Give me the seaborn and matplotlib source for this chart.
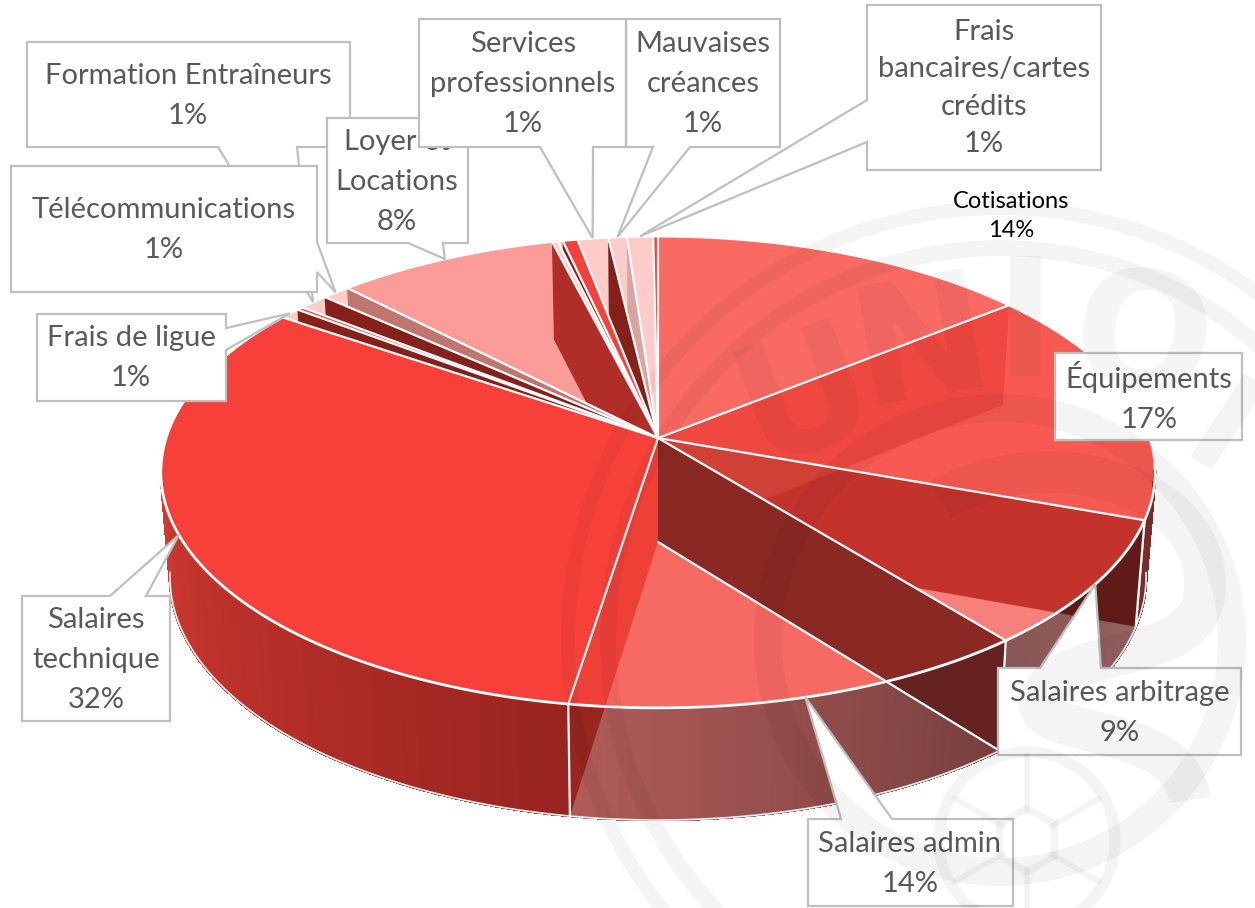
"""3D style pie of club expenses, with Excel like callouts and a faint badge behind."""
import numpy as np
import matplotlib.pyplot as plt
import seaborn as sns
from matplotlib.colors import to_rgb
from matplotlib.patches import Circle, PathPatch, Polygon, RegularPolygon
from matplotlib.path import Path

# --- Data, clockwise from the top (shares) ---
categories = ["Cotisations", "Équipements", "Salaires arbitrage", "Salaires admin",
              "Salaires technique", "Frais de ligue", "", "Formation Entraîneurs",
              "Télécommunications", "Loyer et Locations", "", "", "",
              "Services professionnels", "Mauvaises créances",
              "Frais bancaires/cartes crédits", ""]
shares = [14.2, 16.3, 8.7, 13.3, 32.05, 0.78, 0.23, 1.11, 1.05, 8.33, 0.2, 0.2, 0.55,
          1.15, 0.7, 0.97, 0.18]
printed_pct = ["14%", "17%", "9%", "14%", "32%", "1%", "", "1%", "1%", "8%", "", "", "",
               "1%", "1%", "1%", ""]

# --- Slice styles ---
top_colors = ["#F96A63", "#F85A53", "#F8807A", "#F66A63", "#F8403A", "#FDCBC8", "#F8403A",
              "#FDCBC8", "#FDCBC8", "#FB9C98", "#FDCBC8", "#FDCBC8", "#F8403A",
              "#FDCBC8", "#FDCBC8", "#FDCBC8", "#F8403A"]
wall_colors = ["#EF4840", "#C3332C", "#8A2824", "#EF4038", "#F8403A", "#85201B", "#F8403A",
               "#85201B", "#BF7570", "#B02E27", "#FDCBC8", "#85201B", "#F8403A",
               "#85201B", "#D8A5A2", "#FDCBC8", "#F8403A"]
wall_shade = {1: "#601A18", 2: "#662220", 3: "#982520"}
front_grad = {1: ("#7A2C2A", "#7A2C2A"), 2: ("#966464", "#8A5555"),
              3: ("#75403F", "#B05B58"), 4: ("#9A2420", "#D03A30")}

# Perspective of the pie, in pixels
cx = 658
persp = -0.144
top_disc = (438, 231, 492)
low_disc = (542, 238, 483)


def rim(pct, disc):
    pct = np.asarray(pct, dtype=float)
    theta = 2 * np.pi * pct / 100
    u, w = np.sin(theta), -np.cos(theta)
    d = 1 + persp * w
    return np.column_stack([cx + disc[2] * u / d, disc[0] + disc[1] * w / d])


def arc(a, b, disc):
    return rim(np.linspace(a, b, max(int((b - a) * 8), 2)), disc)


def callout(box, side, base, tip):
    x0, y0, x1, y1 = box
    if side is None:
        return [(x0, y0), (x1, y0), (x1, y1), (x0, y1)]
    a, b = base
    if side == "top":
        return [(x0, y0), (a, y0), tip, (b, y0), (x1, y0), (x1, y1), (x0, y1)]
    if side == "right":
        return [(x0, y0), (x1, y0), (x1, a), tip, (x1, b), (x1, y1), (x0, y1)]
    if side == "bottom":
        return [(x0, y0), (x1, y0), (x1, y1), (b, y1), tip, (a, y1), (x0, y1)]
    return [(x0, y0), (x1, y0), (x1, y1), (x0, y1), (x0, b), tip, (x0, a)]


def wall(i):
    return [(cx, top_disc[0]), rim([edges[i + 1]], top_disc)[0],
            rim([edges[i + 1]], low_disc)[0], (cx, low_disc[0])]


def top(i):
    return np.vstack([[cx, top_disc[0]], arc(edges[i], edges[i + 1], top_disc)])


sns.set_theme(style="white")
plt.rcParams["font.family"] = ["Lato", "DejaVu Sans"]

fig = plt.figure(figsize=(12.55, 9.08), dpi=100)
ax = fig.add_axes([0, 0, 1, 1])
ax.set_xlim(0, 1255)
ax.set_ylim(908, 0)
ax.axis("off")

edges = np.concatenate([[0], np.cumsum(shares)])
n = len(shares)
tech = categories.index("Salaires technique")

# --- Top surfaces and cut walls, painted so each back wall stays in its own sector ---
for i in range(tech):
    ax.add_patch(Polygon(top(i), fc=top_colors[i], ec="none", zorder=2))
for i in range(n - 1, tech, -1):
    ax.add_patch(Polygon(top(i), fc=top_colors[i], ec="none", zorder=2))
    ax.add_patch(Polygon(wall(i), fc=wall_colors[i], ec="none", zorder=2))
for i in range(tech):
    ax.add_patch(Polygon(wall(i), fc=wall_colors[i], ec="none", zorder=3))
    if i == 1:
        # first wall seen through the second one
        over = Polygon(wall(0), fc="#CF4037", ec="none", zorder=3)
        ax.add_patch(over)
        over.set_clip_path(Polygon(wall(1), transform=ax.transData))
ax.add_patch(Polygon(top(tech), fc=top_colors[tech], ec="none", zorder=4))

# --- Outer wall with its shading ---
front_a, front_b = 27.0, 73.0
outer_pts = np.vstack([arc(front_a, front_b, top_disc), arc(front_a, front_b, low_disc)[::-1]])
outer = Polygon(outer_pts, fc="none", ec="none", zorder=5)
ax.add_patch(outer)
for i in range(1, tech + 1):
    a = max(edges[i], front_a)
    b = min(edges[i + 1], front_b)
    steps = np.linspace(a, b, 41)
    c0 = np.array(to_rgb(front_grad[i][0]))
    c1 = np.array(to_rgb(front_grad[i][1]))
    for k in range(40):
        s = rim(steps[k:k + 2], top_disc)
        t = rim(steps[k:k + 2], low_disc)
        col = c0 + (c1 - c0) * k / 39
        ax.add_patch(Polygon([s[0], s[1], t[1], t[0]], fc=col, ec=col, lw=1.2,
                             antialiased=False, zorder=5))
for i in range(1, 4):
    shade = Polygon(wall(i), fc=wall_shade[i], ec="none", zorder=6)
    ax.add_patch(shade)
    shade.set_clip_path(outer)

# --- White lines ---
for e in edges[:-1]:
    p = rim([e], top_disc)[0]
    ax.plot([cx, p[0]], [top_disc[0], p[1]], color="white", lw=1.6, zorder=7,
            solid_capstyle="butt")
ring = arc(0, 100, top_disc)
ax.plot(ring[:, 0], ring[:, 1], color="white", lw=2, zorder=7)
low_line = arc(front_a, front_b, low_disc)
ax.plot(low_line[:, 0], low_line[:, 1], color="#F2F2F2", lw=1.2, zorder=7)
for i in (1, 2, 3):
    p = rim([edges[i + 1]], top_disc)[0]
    q = rim([edges[i + 1]], low_disc)[0]
    ax.plot([p[0], q[0]], [p[1], q[1]], color="white", lw=1.6, zorder=7)
q = rim([edges[3]], low_disc)[0]
ax.plot([cx, q[0]], [low_disc[0], q[1]], color="white", lw=1.6, zorder=7)

# --- Callouts: text centre, box, pointer side and pointer base ---
label_style = {
    "Équipements": ((1149, 397), (1055, 353, 1242, 440), None, None),
    "Salaires arbitrage": ((1120, 713), (998, 668, 1241, 755), "top", (1040, 1101)),
    "Salaires admin": ((910, 864), (808, 819, 1013, 906), "top", (841, 892)),
    "Salaires technique": ((96, 660), (22, 596, 170, 721), "top", (110, 146)),
    "Frais de ligue": ((131, 358), (37, 314, 226, 401), "right", (328, 350)),
    "Formation Entraîneurs": ((188, 96), (27, 42, 350, 147), "bottom", (218, 297)),
    "Télécommunications": ((164, 230), (11, 166, 317, 292), "right", (242, 272)),
    "Loyer et Locations": ((397, 182), (327, 118, 468, 243), "bottom", (408, 443)),
    "Services professionnels": ((523, 84), (419, 19, 626, 147), "bottom", (540, 593)),
    "Mauvaises créances": ((703, 84), (626, 19, 780, 147), "bottom", (653, 690)),
    "Frais bancaires/cartes crédits": ((984, 88), (867, 5, 1101, 170), "left", (100, 142)),
}
wrapped = {
    "Salaires technique": "Salaires\ntechnique",
    "Loyer et Locations": "Loyer et\nLocations",
    "Services professionnels": "Services\nprofessionnels",
    "Mauvaises créances": "Mauvaises\ncréances",
    "Frais bancaires/cartes crédits": "Frais\nbancaires/cartes\ncrédits",
}
draw_order = ["Salaires technique", "Salaires admin", "Salaires arbitrage", "Équipements",
              "Frais de ligue", "Formation Entraîneurs", "Télécommunications",
              "Loyer et Locations", "Frais bancaires/cartes crédits", "Mauvaises créances",
              "Services professionnels"]
for z, name in enumerate(draw_order):
    i = categories.index(name)
    centre, box, side, base = label_style[name]
    tip = rim([(edges[i] + edges[i + 1]) / 2], top_disc)[0]
    ax.add_patch(Polygon(callout(box, side, base, tip), fc="white", ec="#BFBFBF", lw=1.6,
                         joinstyle="miter", zorder=10 + z))
    spacing = 1.55 if name.startswith("Frais banc") else 1.65
    ax.text(centre[0], centre[1], wrapped.get(name, name) + "\n" + printed_pct[i],
            fontsize=21, color="#595959", ha="center", va="center", linespacing=spacing,
            zorder=10 + z)

ax.text(1011, 216, categories[0] + "\n" + printed_pct[0], fontsize=17, color="black",
        ha="center", va="center", linespacing=1.5, zorder=30)

# --- Faint badge, laid over everything ---
mark = dict(color="black", alpha=0.045, zorder=40)
bx, by = 1000, 640
for r, w in [(432, 14), (392, 16), (232, 28)]:
    ax.add_patch(Circle((bx, by), r, fc="none", ec="black", alpha=0.045, lw=w * 0.72, zorder=40))
for ch, x, y, rot in [("U", 806, 400, 20), ("N", 923, 348, 10), ("I", 1025, 330, 0),
                      ("O", 1142, 345, -10)]:
    ax.text(x, y, ch, fontsize=118, fontweight="bold", family="Liberation Sans Narrow",
            ha="center", va="center", rotation=rot, **mark)
ax.plot([1201, 1255], [463, 380], lw=18, solid_capstyle="butt", **mark)
swirl = Path([(940, 500), (1040, 440), (1210, 480), (1205, 590), (1200, 670), (1060, 640),
              (1040, 700), (1030, 740), (1180, 720), (1190, 800)],
             [Path.MOVETO] + [Path.CURVE4] * 9)
ax.add_patch(PathPatch(swirl, fc="none", ec="black", alpha=0.045, lw=30, zorder=40))
ax.add_patch(Circle((1027, 840), 88, fc="none", ec="black", alpha=0.045, lw=8, zorder=40))
ax.add_patch(RegularPolygon((1027, 840), 6, radius=32, fc="none", ec="black", alpha=0.045,
                            lw=5, zorder=40))
for ang in np.arange(30, 390, 60):
    a = np.deg2rad(ang)
    ax.plot([1027 + 28 * np.cos(a), 1027 + 84 * np.cos(a)],
            [840 + 28 * np.sin(a), 840 + 84 * np.sin(a)], lw=4, **mark)

fig.savefig("out.png", dpi=100)
